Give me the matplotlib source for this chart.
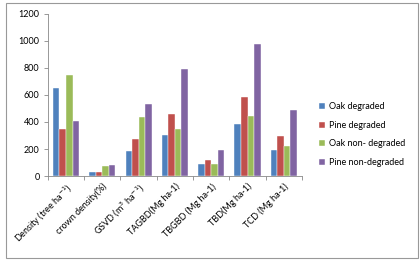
import numpy as np
import matplotlib
matplotlib.use("Agg")
import matplotlib.pyplot as plt
from matplotlib.patches import Rectangle

plt.rcParams['font.family'] = ['Lato', 'DejaVu Sans']

categories = ['Density (tree ha$^{-1}$)', 'crown density(%)', 'GSVD (m$^{3}$ ha$^{-1}$)',
              'TAGBD(Mg ha-1)', 'TBGBD (Mg ha-1)', 'TBD(Mg ha-1)', 'TCD (Mg ha-1)']
series_names = ['Oak degraded', 'Pine degraded', 'Oak non- degraded', 'Pine non-degraded']
oak_degraded = [648, 28, 185, 300, 91, 388, 194]
pine_degraded = [345, 33, 275, 460, 122, 585, 295]
oak_non_degraded = [745, 72, 440, 350, 92, 445, 224]
pine_non_degraded = [405, 82, 530, 790, 194, 978, 492]
colors = ['#4F81BD', '#C0504D', '#9BBB59', '#8064A2']

fig = plt.figure(figsize=(4.2, 2.64), dpi=100)
ax = fig.add_axes([0.114, 0.333, 0.605, 0.615])

x = np.arange(len(categories))
w = 0.18
for i, (vals, name) in enumerate(zip([oak_degraded, pine_degraded, oak_non_degraded, pine_non_degraded], series_names)):
    ax.bar(x + (i - 1.5) * w, vals, w, color=colors[i], label=name,
           edgecolor='white', linewidth=0.3)

ax.set_xlim(-0.5, len(categories) - 0.5)
ax.set_ylim(0, 1200)
ax.set_yticks(range(0, 1201, 200))
ax.set_xticks(x)
ax.set_xticklabels(categories, rotation=45, ha='right', rotation_mode='anchor', fontsize=6.5)
ax.set_xticks(np.arange(-0.5, len(categories), 1), minor=True)
ax.tick_params(axis='x', which='major', length=0, pad=4)
ax.tick_params(axis='x', which='minor', length=3, color='#888888', width=0.6)
ax.tick_params(axis='y', length=3, color='#888888', width=0.6, labelsize=6.5, pad=3)
for s in ['top', 'right']:
    ax.spines[s].set_visible(False)
for s in ['left', 'bottom']:
    ax.spines[s].set_color('#888888')
    ax.spines[s].set_linewidth(0.6)

leg = fig.legend(loc='center left', bbox_to_anchor=(0.74, 0.49), frameon=False,
                 fontsize=6.5, handlelength=0.7, handleheight=0.7, handletextpad=0.4,
                 labelspacing=1.05)

fig.patches.append(Rectangle((0.014, 0.023), 0.981, 0.965, transform=fig.transFigure,
                             fill=False, edgecolor='#999999', linewidth=0.8))

fig.savefig('out.png', dpi=100)
